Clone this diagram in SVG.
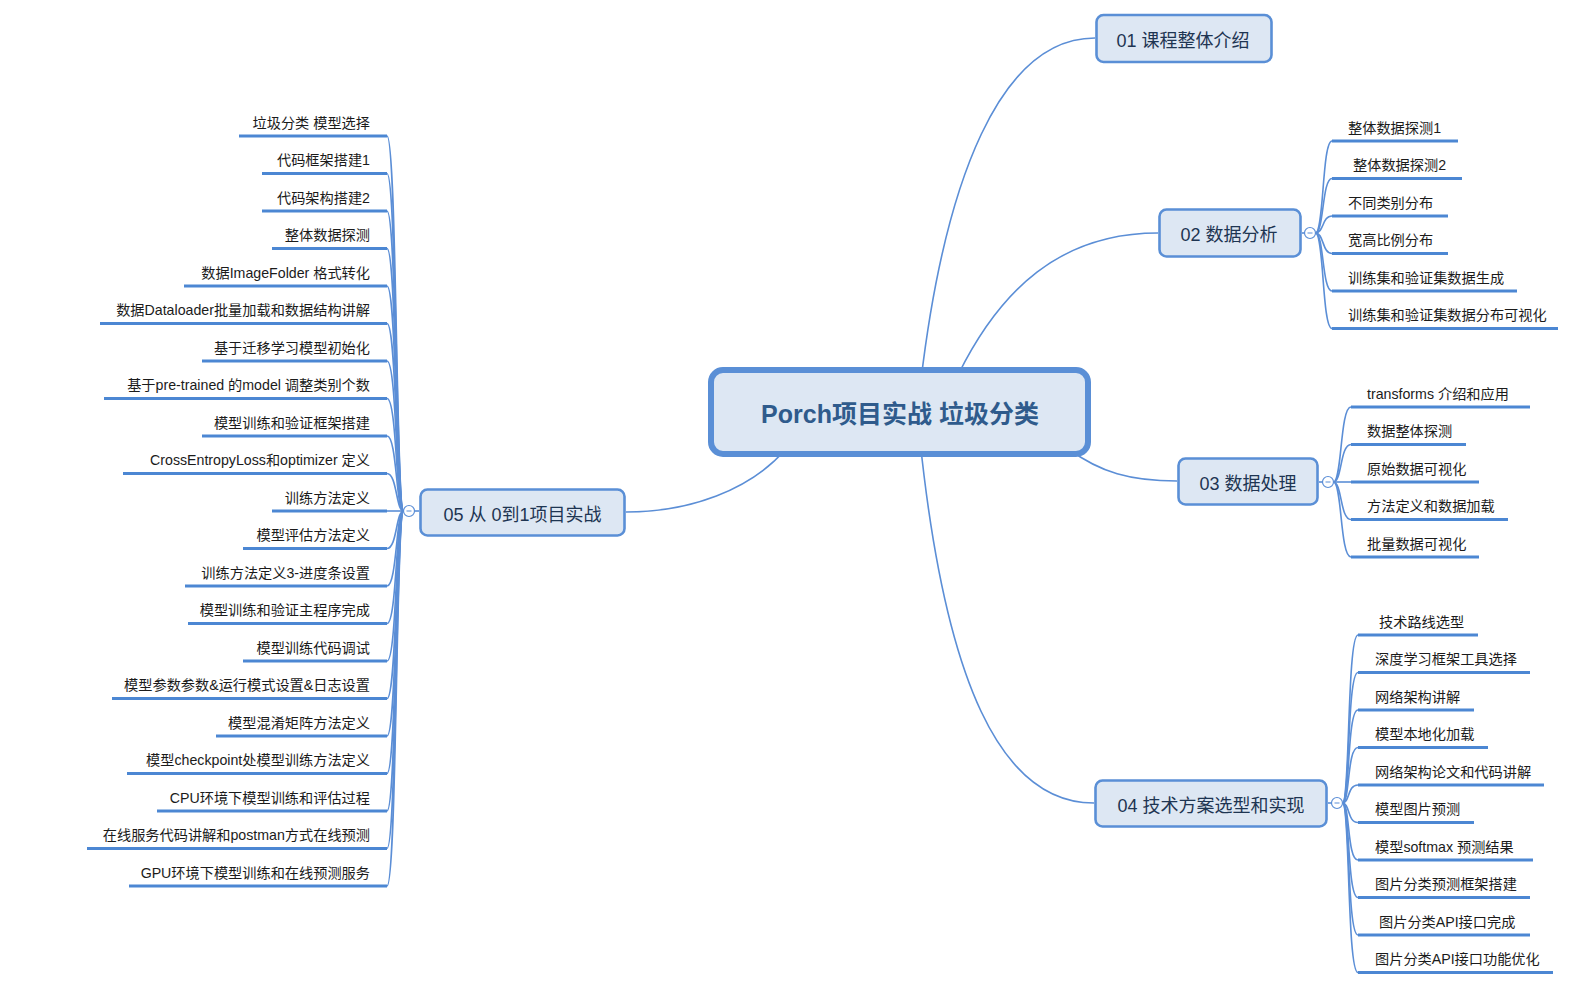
<svg xmlns="http://www.w3.org/2000/svg" width="1577" height="988" viewBox="0 0 1577 988">
<style>
.conn{fill:none;stroke:#5b8ed6;stroke-width:1.6}
.ul{stroke:#4c87d3;stroke-width:3}
.leaf{font-family:"Liberation Sans","Noto Sans CJK SC",sans-serif;font-size:14.2px;fill:#1b1b1b}
.end{text-anchor:end}
.node rect{fill:#dde7f3;stroke:#5a8fd6;stroke-width:2.6}
.ntext{font-family:"Liberation Sans","Noto Sans CJK SC",sans-serif;font-size:18px;fill:#1e3552;text-anchor:middle}
.ctext{font-family:"Liberation Sans","Noto Sans CJK SC",sans-serif;font-size:25px;font-weight:bold;fill:#2f5b8c;text-anchor:middle}
.tog{fill:#ffffff;stroke:#5b8ed6;stroke-width:1.2}
.minus{stroke:#5b8ed6;stroke-width:1}
</style>
<rect width="1577" height="988" fill="#ffffff"/>
<g id="connectors">
<path class="conn" d="M921 380 C945 180 1000 38 1095 38"/>
<path class="conn" d="M958 375 C1000 290 1060 233 1158 233"/>
<path class="conn" d="M1070 450 C1100 472 1130 481 1177 481"/>
<path class="conn" d="M920 440 C945 680 1000 803 1094 803"/>
<path class="conn" d="M785 450 C750 490 690 512 626 512"/>
<path class="conn" d="M1302 233 L1304.5 233"/>
<path class="conn" d="M1319 482 L1322.5 482"/>
<path class="conn" d="M1328 803 L1331.5 803"/>
<path class="conn" d="M414.5 511 L419 511"/>
<path class="conn" d="M1315.5 233 C1324 233 1322 141 1332 141"/>
<path class="conn" d="M1315.5 233 C1324 233 1322 178.5 1332 178.5"/>
<path class="conn" d="M1315.5 233 C1324 233 1322 216 1332 216"/>
<path class="conn" d="M1315.5 233 C1324 233 1322 253.5 1332 253.5"/>
<path class="conn" d="M1315.5 233 C1324 233 1322 291 1332 291"/>
<path class="conn" d="M1315.5 233 C1324 233 1322 328.5 1332 328.5"/>
<path class="conn" d="M1333.5 482 C1342 482 1340 407 1351 407"/>
<path class="conn" d="M1333.5 482 C1342 482 1340 444.5 1351 444.5"/>
<path class="conn" d="M1333.5 482 L1351 482"/>
<path class="conn" d="M1333.5 482 C1342 482 1340 519.5 1351 519.5"/>
<path class="conn" d="M1333.5 482 C1342 482 1340 557 1351 557"/>
<path class="conn" d="M1342.5 803 C1350 803 1347 635 1358 635"/>
<path class="conn" d="M1342.5 803 C1350 803 1347 672.5 1358 672.5"/>
<path class="conn" d="M1342.5 803 C1350 803 1347 710 1358 710"/>
<path class="conn" d="M1342.5 803 C1350 803 1347 747.5 1358 747.5"/>
<path class="conn" d="M1342.5 803 C1350 803 1347 785 1358 785"/>
<path class="conn" d="M1342.5 803 C1350 803 1347 822.5 1358 822.5"/>
<path class="conn" d="M1342.5 803 C1350 803 1347 860 1358 860"/>
<path class="conn" d="M1342.5 803 C1350 803 1347 897.5 1358 897.5"/>
<path class="conn" d="M1342.5 803 C1350 803 1347 935 1358 935"/>
<path class="conn" d="M1342.5 803 C1350 803 1347 972.5 1358 972.5"/>
<path class="conn" d="M403.5 511 C396 511 397 136 387 136"/>
<path class="conn" d="M403.5 511 C396 511 397 173.5 387 173.5"/>
<path class="conn" d="M403.5 511 C396 511 397 211 387 211"/>
<path class="conn" d="M403.5 511 C396 511 397 248.5 387 248.5"/>
<path class="conn" d="M403.5 511 C396 511 397 286 387 286"/>
<path class="conn" d="M403.5 511 C396 511 397 323.5 387 323.5"/>
<path class="conn" d="M403.5 511 C396 511 397 361 387 361"/>
<path class="conn" d="M403.5 511 C396 511 397 398.5 387 398.5"/>
<path class="conn" d="M403.5 511 C396 511 397 436 387 436"/>
<path class="conn" d="M403.5 511 C396 511 397 473.5 387 473.5"/>
<path class="conn" d="M403.5 511 L387 511"/>
<path class="conn" d="M403.5 511 C396 511 397 548.5 387 548.5"/>
<path class="conn" d="M403.5 511 C396 511 397 586 387 586"/>
<path class="conn" d="M403.5 511 C396 511 397 623.5 387 623.5"/>
<path class="conn" d="M403.5 511 C396 511 397 661 387 661"/>
<path class="conn" d="M403.5 511 C396 511 397 698.5 387 698.5"/>
<path class="conn" d="M403.5 511 C396 511 397 736 387 736"/>
<path class="conn" d="M403.5 511 C396 511 397 773.5 387 773.5"/>
<path class="conn" d="M403.5 511 C396 511 397 811 387 811"/>
<path class="conn" d="M403.5 511 C396 511 397 848.5 387 848.5"/>
<path class="conn" d="M403.5 511 C396 511 397 886 387 886"/>
</g>
<g id="center" class="node">
<rect x="711" y="370" width="377" height="84" rx="12" style="stroke-width:6"/>
<text class="ctext" x="900" y="422.5">Porch项目实战 垃圾分类</text>
</g>
<g id="n01" class="node">
<rect x="1096.5" y="15" width="175" height="47" rx="7"/>
<text class="ntext" x="1183" y="46.5">01 课程整体介绍</text>
</g>
<g id="n02" class="node">
<rect x="1159.5" y="209.5" width="141" height="47" rx="7"/>
<text class="ntext" x="1229" y="241">02 数据分析</text>
<circle class="tog" cx="1310" cy="233" r="5.5"/><line class="minus" x1="1307.5" y1="233" x2="1312.5" y2="233"/>
</g>
<g id="n03" class="node">
<rect x="1178.5" y="458.5" width="139" height="46" rx="7"/>
<text class="ntext" x="1248" y="489.5">03 数据处理</text>
<circle class="tog" cx="1328" cy="482" r="5.5"/><line class="minus" x1="1325.5" y1="482" x2="1330.5" y2="482"/>
</g>
<g id="n04" class="node">
<rect x="1095.5" y="780.5" width="231" height="46" rx="7"/>
<text class="ntext" x="1211" y="811.5">04 技术方案选型和实现</text>
<circle class="tog" cx="1337" cy="803" r="5.5"/><line class="minus" x1="1334.5" y1="803" x2="1339.5" y2="803"/>
</g>
<g id="n05" class="node">
<rect x="420.5" y="489.5" width="204" height="46" rx="7"/>
<text class="ntext" x="522.5" y="520.5">05 从 0到1项目实战</text>
<circle class="tog" cx="409" cy="511" r="5.5"/><line class="minus" x1="406.5" y1="511" x2="411.5" y2="511"/>
</g>
<g id="leaves02">
<g id="l02a"><line class="ul" x1="1332" y1="141" x2="1458" y2="141"/><text class="leaf" x="1348" y="132.5">整体数据探测1</text></g>
<g id="l02b"><line class="ul" x1="1332" y1="178.5" x2="1462" y2="178.5"/><text class="leaf" x="1353" y="170">整体数据探测2</text></g>
<g id="l02c"><line class="ul" x1="1332" y1="216" x2="1448" y2="216"/><text class="leaf" x="1348" y="207.5">不同类别分布</text></g>
<g id="l02d"><line class="ul" x1="1332" y1="253.5" x2="1448" y2="253.5"/><text class="leaf" x="1348" y="245">宽高比例分布</text></g>
<g id="l02e"><line class="ul" x1="1332" y1="291" x2="1517" y2="291"/><text class="leaf" x="1348" y="282.5">训练集和验证集数据生成</text></g>
<g id="l02f"><line class="ul" x1="1332" y1="328.5" x2="1558" y2="328.5"/><text class="leaf" x="1348" y="320">训练集和验证集数据分布可视化</text></g>
</g>
<g id="leaves03">
<g id="l03a"><line class="ul" x1="1351" y1="407" x2="1530" y2="407"/><text class="leaf" x="1367" y="398.5">transforms 介绍和应用</text></g>
<g id="l03b"><line class="ul" x1="1351" y1="444.5" x2="1466" y2="444.5"/><text class="leaf" x="1367" y="436">数据整体探测</text></g>
<g id="l03c"><line class="ul" x1="1351" y1="482" x2="1479" y2="482"/><text class="leaf" x="1367" y="473.5">原始数据可视化</text></g>
<g id="l03d"><line class="ul" x1="1351" y1="519.5" x2="1508" y2="519.5"/><text class="leaf" x="1367" y="511">方法定义和数据加载</text></g>
<g id="l03e"><line class="ul" x1="1351" y1="557" x2="1479" y2="557"/><text class="leaf" x="1367" y="548.5">批量数据可视化</text></g>
</g>
<g id="leaves04">
<g id="l04a"><line class="ul" x1="1358" y1="635" x2="1478" y2="635"/><text class="leaf" x="1379" y="626.5">技术路线选型</text></g>
<g id="l04b"><line class="ul" x1="1358" y1="672.5" x2="1530" y2="672.5"/><text class="leaf" x="1375" y="664">深度学习框架工具选择</text></g>
<g id="l04c"><line class="ul" x1="1358" y1="710" x2="1474" y2="710"/><text class="leaf" x="1375" y="701.5">网络架构讲解</text></g>
<g id="l04d"><line class="ul" x1="1358" y1="747.5" x2="1488" y2="747.5"/><text class="leaf" x="1375" y="739">模型本地化加载</text></g>
<g id="l04e"><line class="ul" x1="1358" y1="785" x2="1544" y2="785"/><text class="leaf" x="1375" y="776.5">网络架构论文和代码讲解</text></g>
<g id="l04f"><line class="ul" x1="1358" y1="822.5" x2="1474" y2="822.5"/><text class="leaf" x="1375" y="814">模型图片预测</text></g>
<g id="l04g"><line class="ul" x1="1358" y1="860" x2="1533" y2="860"/><text class="leaf" x="1375" y="851.5">模型softmax 预测结果</text></g>
<g id="l04h"><line class="ul" x1="1358" y1="897.5" x2="1530" y2="897.5"/><text class="leaf" x="1375" y="889">图片分类预测框架搭建</text></g>
<g id="l04i"><line class="ul" x1="1358" y1="935" x2="1530" y2="935"/><text class="leaf" x="1379" y="926.5">图片分类API接口完成</text></g>
<g id="l04j"><line class="ul" x1="1358" y1="972.5" x2="1553" y2="972.5"/><text class="leaf" x="1375" y="964">图片分类API接口功能优化</text></g>
</g>
<g id="leaves05">
<g id="l05a"><line class="ul" x1="239" y1="136" x2="387" y2="136"/><text class="leaf end" x="370" y="127.5">垃圾分类 模型选择</text></g>
<g id="l05b"><line class="ul" x1="262" y1="173.5" x2="387" y2="173.5"/><text class="leaf end" x="370" y="165">代码框架搭建1</text></g>
<g id="l05c"><line class="ul" x1="262" y1="211" x2="387" y2="211"/><text class="leaf end" x="370" y="202.5">代码架构搭建2</text></g>
<g id="l05d"><line class="ul" x1="272" y1="248.5" x2="387" y2="248.5"/><text class="leaf end" x="370" y="240">整体数据探测</text></g>
<g id="l05e"><line class="ul" x1="184" y1="286" x2="387" y2="286"/><text class="leaf end" x="370" y="277.5">数据ImageFolder 格式转化</text></g>
<g id="l05f"><line class="ul" x1="100" y1="323.5" x2="387" y2="323.5"/><text class="leaf end" x="370" y="315">数据Dataloader批量加载和数据结构讲解</text></g>
<g id="l05g"><line class="ul" x1="202" y1="361" x2="387" y2="361"/><text class="leaf end" x="370" y="352.5">基于迁移学习模型初始化</text></g>
<g id="l05h"><line class="ul" x1="104" y1="398.5" x2="387" y2="398.5"/><text class="leaf end" x="370" y="390">基于pre-trained 的model 调整类别个数</text></g>
<g id="l05i"><line class="ul" x1="202" y1="436" x2="387" y2="436"/><text class="leaf end" x="370" y="427.5">模型训练和验证框架搭建</text></g>
<g id="l05j"><line class="ul" x1="123" y1="473.5" x2="387" y2="473.5"/><text class="leaf end" x="370" y="465">CrossEntropyLoss和optimizer 定义</text></g>
<g id="l05k"><line class="ul" x1="272" y1="511" x2="387" y2="511"/><text class="leaf end" x="370" y="502.5">训练方法定义</text></g>
<g id="l05l"><line class="ul" x1="243" y1="548.5" x2="387" y2="548.5"/><text class="leaf end" x="370" y="540">模型评估方法定义</text></g>
<g id="l05m"><line class="ul" x1="185" y1="586" x2="387" y2="586"/><text class="leaf end" x="370" y="577.5">训练方法定义3-进度条设置</text></g>
<g id="l05n"><line class="ul" x1="188" y1="623.5" x2="387" y2="623.5"/><text class="leaf end" x="370" y="615">模型训练和验证主程序完成</text></g>
<g id="l05o"><line class="ul" x1="243" y1="661" x2="387" y2="661"/><text class="leaf end" x="370" y="652.5">模型训练代码调试</text></g>
<g id="l05p"><line class="ul" x1="112" y1="698.5" x2="387" y2="698.5"/><text class="leaf end" x="370" y="690">模型参数参数&amp;运行模式设置&amp;日志设置</text></g>
<g id="l05q"><line class="ul" x1="216" y1="736" x2="387" y2="736"/><text class="leaf end" x="370" y="727.5">模型混淆矩阵方法定义</text></g>
<g id="l05r"><line class="ul" x1="127" y1="773.5" x2="387" y2="773.5"/><text class="leaf end" x="370" y="765">模型checkpoint处模型训练方法定义</text></g>
<g id="l05s"><line class="ul" x1="157" y1="811" x2="387" y2="811"/><text class="leaf end" x="370" y="802.5">CPU环境下模型训练和评估过程</text></g>
<g id="l05t"><line class="ul" x1="87" y1="848.5" x2="387" y2="848.5"/><text class="leaf end" x="370" y="840">在线服务代码讲解和postman方式在线预测</text></g>
<g id="l05u"><line class="ul" x1="129" y1="886" x2="387" y2="886"/><text class="leaf end" x="370" y="877.5">GPU环境下模型训练和在线预测服务</text></g>
</g>
</svg>
